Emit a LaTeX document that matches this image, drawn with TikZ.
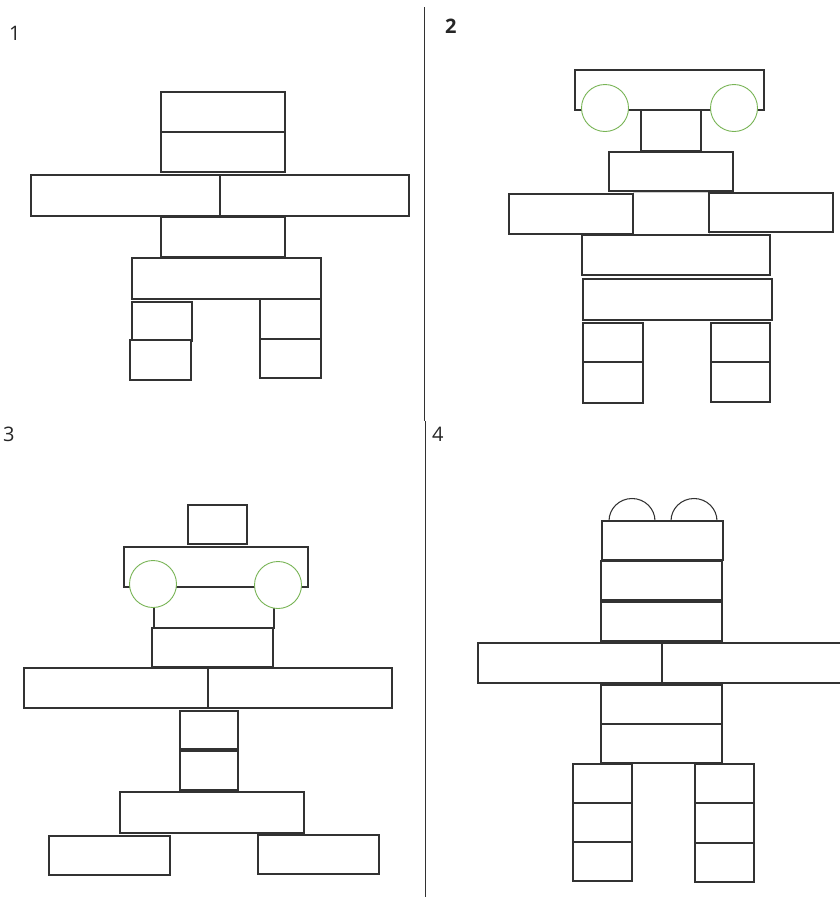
\documentclass[tikz,border=0pt]{standalone}
\usepackage{fontspec}
\newfontfamily\lblfont{Open Sans}
\usepackage{xcolor}
\definecolor{eyegreen}{RGB}{120,180,85}
\definecolor{lineg}{RGB}{50,50,50}
\definecolor{faintg}{RGB}{205,205,205}
\usepackage{tikz}
\newcommand{\blk}[4]{\draw[blk] (#1,#2) rectangle (#3,#4);}
\newcommand{\eye}[2]{\draw[eyering] (#1,#2) circle (23.5);}
\newcommand{\dome}[2]{\draw[blk] (#1,#2) arc[start angle=180,end angle=360,x radius=23,y radius=22.5];}

\begin{document}
\begin{tikzpicture}[x=1pt,y=-1pt,
  blk/.style={draw=lineg,line width=1.05pt,fill=white},
  eyering/.style={draw=eyegreen,line width=0.9pt,fill=white},
  lbl/.style={font=\lblfont\fontsize{20}{24}\selectfont,text=black!85,anchor=west,inner sep=0pt}]
\useasboundingbox[fill=white] (0,0) rectangle (840,897);
% ---- dividing line ----
\draw[lineg,line width=1pt] (424,7) -- (424,421);
\draw[lineg,line width=1pt] (425,421) -- (425,897);
% ---- 1 ----
\node[lbl] (num1) at (9,33) {1};
\blk{161}{92}{285}{132}
\blk{161}{132}{285}{172}
\blk{31}{175}{220}{216}
\blk{220}{175}{409}{216}
\blk{161}{217}{285}{257}
\blk{132}{258}{321}{299}
\blk{132}{302}{192}{341}
\blk{130}{340}{191}{380}
\blk{260}{299}{321}{339}
\blk{260}{339}{321}{378}
% ---- 2 ----
\node[lbl,font=\lblfont\bfseries\fontsize{20}{24}\selectfont] (num2) at (445,26) {2};
\blk{575}{70}{764}{110}
\eye{605}{108}
\eye{734}{108}
\blk{641}{110}{701}{151}
\blk{609}{152}{733}{191}
\draw[faintg,line width=0.9pt] (633,192) rectangle (709,234);
\blk{509}{194}{633}{234}
\blk{709}{193}{833}{232}
\blk{582}{235}{770}{275}
\blk{583}{279}{772}{320}
\blk{583}{323}{643}{362}
\blk{583}{362}{643}{403}
\blk{711}{323}{770}{362}
\blk{711}{362}{770}{402}
% ---- 3 ----
\node[lbl] (num3) at (3,434) {3};
\blk{188}{505}{247}{544}
\blk{124}{547}{308}{587}
\blk{154}{587}{274}{628}
\eye{153}{584}
\eye{278}{585}
\blk{152}{628}{273}{667}
\blk{24}{668}{208}{708}
\blk{208}{668}{392}{708}
\blk{180}{711}{238}{749}
\blk{180}{751}{238}{790}
\blk{120}{792}{304}{833}
\blk{49}{836}{170}{875}
\blk{258}{835}{379}{874}
% ---- 4 ----
\node[lbl] (num4) at (432,434) {4};
\dome{609}{521}
\dome{671}{521}
\blk{602}{521}{723}{560}
\blk{601}{561}{722}{600}
\blk{601}{602}{722}{641}
\blk{478}{643}{662}{683}
\blk{662}{643}{846}{683}
\blk{601}{685}{722}{724}
\blk{601}{724}{722}{763}
\blk{573}{764}{632}{803}
\blk{573}{803}{632}{842}
\blk{573}{842}{632}{881}
\blk{695}{764}{754}{803}
\blk{695}{803}{754}{843}
\blk{695}{843}{754}{882}
\end{tikzpicture}
\end{document}
